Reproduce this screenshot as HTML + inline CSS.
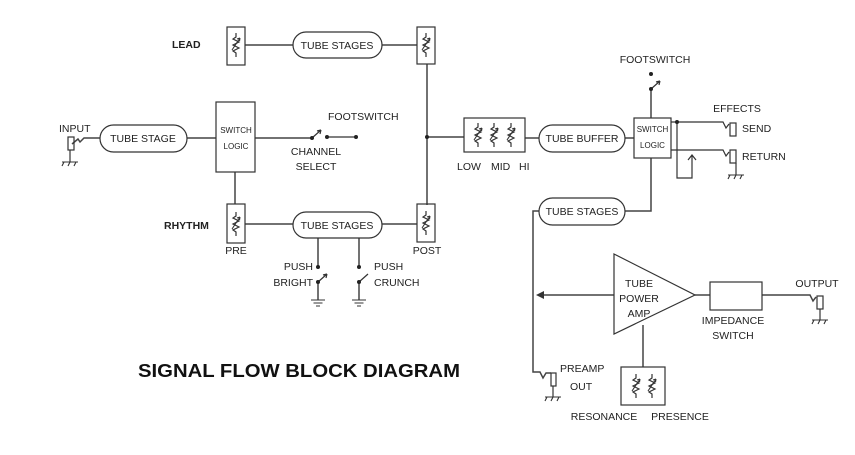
<!DOCTYPE html>
<html><head><meta charset="utf-8"><style>
html,body{margin:0;padding:0;background:#fff;}
svg{display:block;}
text{font-family:"Liberation Sans",Arial,sans-serif;font-size:10.5px;fill:#222;}
</style></head><body>
<svg width="855" height="455" viewBox="0 0 855 455" xmlns="http://www.w3.org/2000/svg">
<defs>
<g id="pz">
<path d="M0,-12 V-8 L-3,-6 L3,-3 L-3,0 L3,3 L-3,6 L0,8 V12" fill="none" stroke="#333" stroke-width="1.2"/>
<path d="M-4,5 L4,-7 M4,-7 L1,-6 M4,-7 L3.5,-4" fill="none" stroke="#333" stroke-width="1.1"/>
</g>
<g id="gnd"><path d="M-8,0 H8 M-6,0 L-8,4 M0,0 L-2,4 M6,0 L4,4" stroke="#333" fill="none" stroke-width="1.1"/></g>
<g id="eg"><path d="M-7,0 H7 M-4.5,3 H4.5 M-2,6 H2" stroke="#333" stroke-width="1.1"/></g>
</defs>
<g fill="none" stroke="#444" stroke-width="1.5">
<line x1="245" y1="45" x2="293" y2="45"/><line x1="382" y1="45" x2="417" y2="45"/>
<line x1="427" y1="64" x2="427" y2="205"/><line x1="427" y1="137" x2="464" y2="137"/>
<path d="M72,144 L78,139 L80,142 L84,138 H100"/>
<line x1="187" y1="138" x2="216" y2="138"/><line x1="255" y1="138" x2="312" y2="138"/>
<line x1="235" y1="172" x2="235" y2="204"/>
<line x1="245" y1="224" x2="293" y2="224"/><line x1="382" y1="224" x2="417" y2="224"/>
<line x1="318" y1="238" x2="318" y2="267"/><line x1="359" y1="238" x2="359" y2="267"/>
<line x1="318" y1="282" x2="318" y2="300"/><line x1="359" y1="282" x2="359" y2="300"/>
<line x1="525" y1="138" x2="539" y2="138"/><line x1="625" y1="138" x2="634" y2="138"/>
<line x1="651" y1="118" x2="651" y2="89"/>
<path d="M651,158 V211 H625"/>
<path d="M539,211 H533 V372 L540,372 L543,378 L546,373 H551"/>
<line x1="614" y1="295" x2="540" y2="295"/>
<line x1="695" y1="295" x2="710" y2="295"/><path d="M762,295 H810 L813,301 L816,297"/>
<line x1="643" y1="325" x2="643" y2="367"/>
</g>
<g fill="none" stroke="#333" stroke-width="1.2">
<path d="M671,122 H723 L726,128 L729,124"/><path d="M671,150 H723 L726,156 L729,152"/>
<path d="M677,122 V178 H692 V156 M688,160 L692,155 L696,160"/>
<line x1="736" y1="163" x2="736" y2="175"/>
<line x1="70" y1="150" x2="70" y2="162"/>
<line x1="553" y1="386" x2="553" y2="397"/><line x1="820" y1="309" x2="820" y2="320"/>
<rect x="227" y="27" width="18" height="38"/><rect x="417" y="27" width="18" height="37"/>
<rect x="227" y="204" width="18" height="39"/><rect x="417" y="204" width="18" height="38"/>
<rect x="216" y="102" width="39" height="70"/>
<rect x="464" y="118" width="61" height="34"/><rect x="634" y="118" width="37" height="40"/>
<rect x="710" y="282" width="52" height="28"/><rect x="621" y="367" width="44" height="38"/>
<rect x="68" y="137" width="6" height="13"/><rect x="730" y="123" width="6" height="13"/>
<rect x="730" y="150" width="6" height="13"/><rect x="551" y="373" width="5" height="13"/>
<rect x="817" y="296" width="6" height="13"/>
<rect x="100" y="125" width="87" height="27" rx="13.5"/>
<rect x="293" y="32" width="89" height="26" rx="13"/><rect x="293" y="212" width="89" height="26" rx="13"/>
<rect x="539" y="125" width="86" height="27" rx="13.5"/><rect x="539" y="198" width="86" height="27" rx="13.5"/>
<polygon points="614,254 695,295 614,334"/>
<path d="M312,138 L321,130 M321,130 L317,131 M321,130 L320,134"/>
<line x1="327" y1="137" x2="356" y2="137"/>
<path d="M318,282 L327,274 M327,274 L323,275 M327,274 L326,278"/>
<path d="M359,282 L368,274"/>
<path d="M651,89 L660,81 M660,81 L656,82 M660,81 L659,85"/>
</g>
<polygon points="536,295 544,291 544,299" fill="#333"/>
<g fill="#222">
<circle cx="427" cy="137" r="2"/><circle cx="677" cy="122" r="2"/>
<circle cx="312" cy="138" r="2"/><circle cx="327" cy="137" r="2"/><circle cx="356" cy="137" r="2"/>
<circle cx="318" cy="267" r="2"/><circle cx="359" cy="267" r="2"/><circle cx="318" cy="282" r="2"/><circle cx="359" cy="282" r="2"/>
<circle cx="651" cy="89" r="2"/><circle cx="651" cy="74" r="2"/>
</g>
<use href="#pz" x="236" y="45"/><use href="#pz" x="426" y="45"/>
<use href="#pz" x="236" y="224"/><use href="#pz" x="426" y="223"/>
<use href="#pz" x="478" y="135"/><use href="#pz" x="494" y="135"/><use href="#pz" x="511" y="135"/>
<use href="#pz" x="636" y="386"/><use href="#pz" x="652" y="386"/>
<use href="#gnd" x="70" y="162"/><use href="#gnd" x="736" y="175"/><use href="#gnd" x="553" y="397"/><use href="#gnd" x="820" y="320"/>
<use href="#eg" x="318" y="300"/><use href="#eg" x="359" y="300"/>
<g>
<text x="172" y="48" font-weight="bold">LEAD</text>
<text x="164" y="229" font-weight="bold">RHYTHM</text>
<text x="337" y="49" text-anchor="middle">TUBE STAGES</text>
<text x="337" y="229" text-anchor="middle">TUBE STAGES</text>
<text x="143" y="142" text-anchor="middle">TUBE STAGE</text>
<text x="59" y="132">INPUT</text>
<text x="236" y="133" text-anchor="middle" style="font-size:8px">SWITCH</text>
<text x="236" y="149" text-anchor="middle" style="font-size:8px">LOGIC</text>
<text x="328" y="120">FOOTSWITCH</text>
<text x="316" y="155" text-anchor="middle">CHANNEL</text>
<text x="316" y="170" text-anchor="middle">SELECT</text>
<text x="236" y="254" text-anchor="middle">PRE</text>
<text x="427" y="254" text-anchor="middle">POST</text>
<text x="313" y="270" text-anchor="end">PUSH</text>
<text x="313" y="286" text-anchor="end">BRIGHT</text>
<text x="374" y="270">PUSH</text>
<text x="374" y="286">CRUNCH</text>
<text x="457" y="170">LOW</text><text x="491" y="170">MID</text><text x="519" y="170">HI</text>
<text x="582" y="142" text-anchor="middle">TUBE BUFFER</text>
<text x="582" y="215" text-anchor="middle">TUBE STAGES</text>
<text x="652.5" y="132" text-anchor="middle" style="font-size:8px">SWITCH</text>
<text x="652.5" y="148" text-anchor="middle" style="font-size:8px">LOGIC</text>
<text x="655" y="63" text-anchor="middle">FOOTSWITCH</text>
<text x="737" y="112" text-anchor="middle">EFFECTS</text>
<text x="742" y="132">SEND</text><text x="742" y="160">RETURN</text>
<text x="639" y="287" text-anchor="middle">TUBE</text>
<text x="639" y="302" text-anchor="middle">POWER</text>
<text x="639" y="317" text-anchor="middle">AMP</text>
<text x="733" y="324" text-anchor="middle">IMPEDANCE</text>
<text x="733" y="339" text-anchor="middle">SWITCH</text>
<text x="817" y="287" text-anchor="middle">OUTPUT</text>
<text x="560" y="372">PREAMP</text><text x="570" y="390">OUT</text>
<text x="604" y="420" text-anchor="middle">RESONANCE</text>
<text x="680" y="420" text-anchor="middle">PRESENCE</text>
<text x="138" y="377" font-weight="bold" textLength="322" lengthAdjust="spacingAndGlyphs" style="font-size:18px;fill:#111">SIGNAL FLOW BLOCK DIAGRAM</text>
</g>
</svg>
</body></html>
